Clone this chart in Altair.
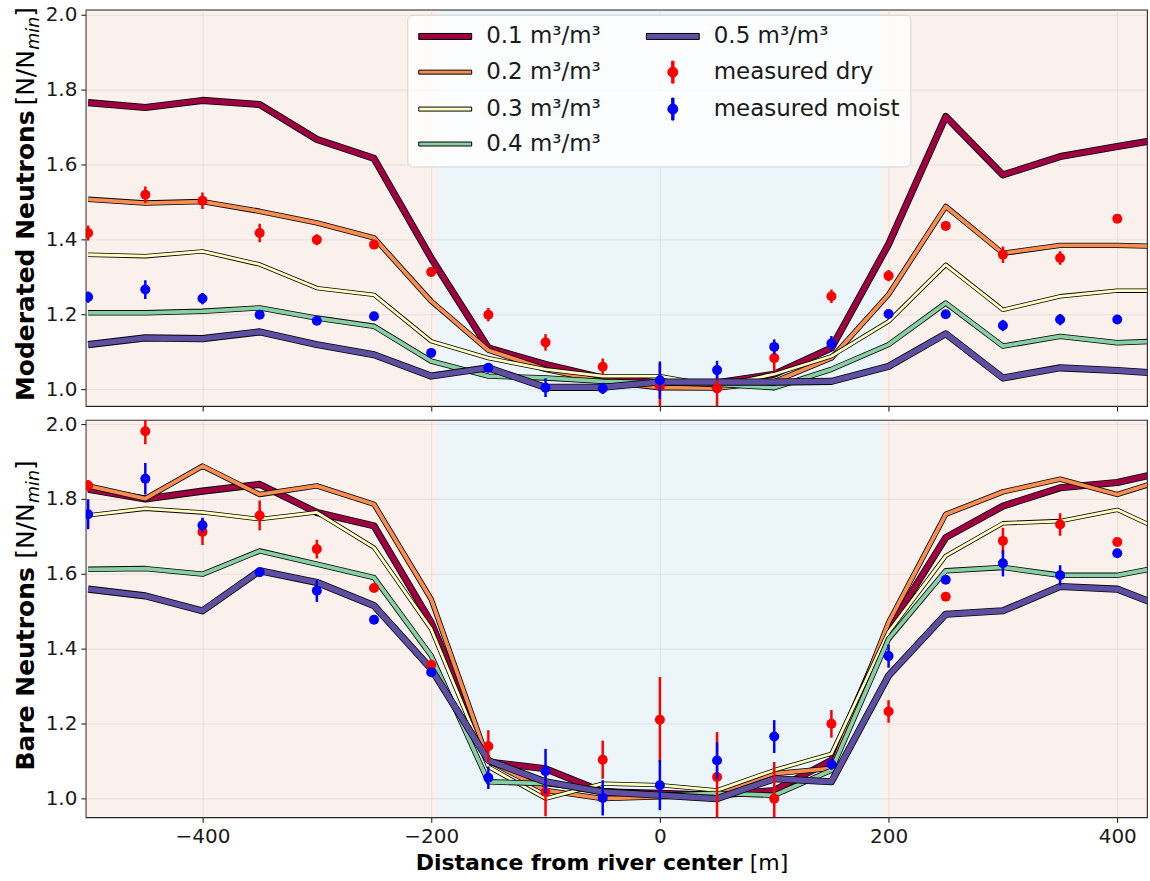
import altair as alt
import pandas as pd

# ---------------------------------------------------------------- data ----
# model positions across the river transect [m]
distance = [-500, -450, -400, -350, -300, -250, -200, -150, -100, -50,
            0, 50, 100, 150, 200, 250, 300, 350, 400, 450]
# measurement stations [m]
station = [-500, -450, -400, -350, -300, -250, -200, -150, -100, -50,
           0, 50, 100, 150, 200, 250, 300, 350, 400]

series = ["0.1 m³/m³", "0.2 m³/m³", "0.3 m³/m³", "0.4 m³/m³", "0.5 m³/m³"]
series_color = ["#9e0142", "#f88d52", "#ffffbf", "#88d0a4", "#5e4fa2"]
series_width = [5.5, 3.8, 2.8, 3.8, 5.5]

# moderated neutrons, simulated for each soil moisture
mod_01 = [1.765, 1.752, 1.771, 1.760, 1.667, 1.616, 1.350, 1.110, 1.066, 1.030,
          1.017, 1.017, 1.040, 1.110, 1.387, 1.728, 1.572, 1.621, 1.648, 1.673]
mod_02 = [1.507, 1.497, 1.501, 1.475, 1.444, 1.404, 1.235, 1.104, 1.053, 1.021,
          1.004, 1.003, 1.020, 1.083, 1.253, 1.488, 1.363, 1.384, 1.384, 1.380]
mod_03 = [1.359, 1.355, 1.368, 1.333, 1.270, 1.252, 1.128, 1.083, 1.053, 1.035,
          1.035, 1.008, 1.040, 1.088, 1.181, 1.332, 1.212, 1.248, 1.263, 1.263]
mod_04 = [1.204, 1.204, 1.208, 1.217, 1.190, 1.168, 1.075, 1.035, 1.030, 1.021,
          1.017, 1.013, 1.004, 1.053, 1.119, 1.230, 1.115, 1.141, 1.124, 1.130]
mod_05 = [1.119, 1.137, 1.135, 1.153, 1.119, 1.092, 1.035, 1.057, 1.005, 1.005,
          1.019, 1.019, 1.019, 1.021, 1.061, 1.148, 1.030, 1.057, 1.050, 1.040]

# moderated neutrons, measured
mod_dry = [1.417, 1.519, 1.503, 1.417, 1.399, 1.386, 1.313, 1.199, 1.125, 1.060,
           1.008, 1.002, 1.083, 1.248, 1.303, 1.436, 1.359, 1.350, 1.455]
mod_dry_err = [0.020, 0.022, 0.022, 0.025, 0.015, 0.012, 0.012, 0.018, 0.022, 0.022,
               0.060, 0.050, 0.035, 0.018, 0.015, 0.010, 0.022, 0.018, 0.010]
mod_moist = [1.246, 1.266, 1.242, 1.199, 1.183, 1.195, 1.097, 1.057, 1.004, 1.002,
             1.024, 1.051, 1.113, 1.122, 1.201, 1.200, 1.170, 1.186, 1.186]
mod_moist_err = [0.015, 0.025, 0.015, 0.010, 0.012, 0.010, 0.010, 0.010, 0.025, 0.015,
                 0.050, 0.025, 0.020, 0.020, 0.010, 0.010, 0.015, 0.015, 0.010]

# bare neutrons, simulated for each soil moisture
bare_01 = [1.826, 1.800, 1.821, 1.839, 1.764, 1.728, 1.470, 1.097, 1.079, 1.017,
           1.013, 1.008, 1.021, 1.101, 1.452, 1.697, 1.781, 1.830, 1.844, 1.878]
bare_02 = [1.835, 1.801, 1.888, 1.812, 1.835, 1.786, 1.532, 1.100, 1.021, 0.999,
           1.004, 1.010, 1.066, 1.080, 1.470, 1.759, 1.819, 1.853, 1.812, 1.860]
bare_03 = [1.756, 1.774, 1.764, 1.746, 1.764, 1.670, 1.452, 1.084, 0.999, 1.039,
           1.035, 1.021, 1.075, 1.119, 1.444, 1.648, 1.735, 1.741, 1.771, 1.700]
bare_04 = [1.612, 1.614, 1.599, 1.661, 1.626, 1.590, 1.381, 1.044, 1.039, 1.021,
           1.008, 1.013, 1.008, 1.075, 1.426, 1.608, 1.617, 1.596, 1.596, 1.625]
bare_05 = [1.559, 1.541, 1.501, 1.608, 1.577, 1.515, 1.346, 1.101, 1.044, 1.017,
           1.008, 0.999, 1.052, 1.044, 1.328, 1.492, 1.501, 1.566, 1.559, 1.500]

# bare neutrons, measured
bare_dry = [1.836, 1.981, 1.712, 1.756, 1.666, 1.562, 1.356, 1.139, 1.017, 1.103,
            1.210, 1.057, 0.999, 1.199, 1.232, 1.539, 1.688, 1.732, 1.685]
bare_dry_err = [0.015, 0.035, 0.035, 0.040, 0.025, 0.010, 0.015, 0.043, 0.065, 0.051,
                0.114, 0.120, 0.098, 0.037, 0.030, 0.012, 0.035, 0.030, 0.010]
bare_moist = [1.759, 1.854, 1.730, 1.604, 1.555, 1.477, 1.337, 1.055, 1.072, 1.001,
              1.035, 1.101, 1.165, 1.091, 1.380, 1.584, 1.628, 1.596, 1.655]
bare_moist_err = [0.040, 0.042, 0.020, 0.010, 0.030, 0.010, 0.010, 0.030, 0.060, 0.047,
                  0.067, 0.049, 0.044, 0.015, 0.031, 0.010, 0.035, 0.027, 0.010]

# river (blue) and bank (pink) zones
zone_start = [-600, -194, 194]
zone_end = [-194, 194, 600]
zone_name = ["bank", "river", "bank"]
zone_colors = ["#f1d7c9", "#c9e5f1"]

# legend entries (filled column by column, two columns)
legend_order = ["0.1 m³/m³", "0.2 m³/m³", "0.3 m³/m³", "0.4 m³/m³",
                "0.5 m³/m³", "measured dry", "measured moist"]
legend_fill = ["#9e0142", "#f88d52", "#ffffbf", "#88d0a4",
               "#5e4fa2", "#ff0000", "#0000ff"]
legend_stroke = ["#000000", "#000000", "#000000", "#000000",
                 "#000000", "#ff0000", "#0000ff"]

FONT = "DejaVu Sans"
X_DOMAIN = [-502, 426]
PANEL_W = 1063
X_TITLE_SIZE = 22
Y_TITLE_SIZE = 25

# ------------------------------------------------------------ helpers ----
line_thick = "M-1,-0.3L4.3,-0.3L4.3,0.3L-1,0.3Z"
line_thin = "M-1,-0.2L4.3,-0.2L4.3,0.2L-1,0.2Z"
errbar = ("M1.53,-1.1L1.77,-1.1L1.77,1.1L1.53,1.1Z "
          "M2.15,0A0.5,0.5 0 1,1 1.15,0A0.5,0.5 0 1,1 2.15,0Z")
legend_shapes = [line_thick, line_thin, line_thin, line_thin, line_thick, errbar, errbar]

x_scale = alt.Scale(domain=X_DOMAIN, nice=False, zero=False)
corner = pd.DataFrame({"k": [0]})


def x_axis(show_labels):
    return alt.Axis(values=[-400, -200, 0, 200, 400], labels=show_labels,
                    title=None, grid=True, format="d")


def extent_marker(px, py):
    # invisible hairline that pins the outer extent of the figure
    return alt.Chart(corner).mark_rule(opacity=0, strokeWidth=1).encode(
        x=alt.value(px), x2=alt.value(px + 0.01), y=alt.value(py), y2=alt.value(py + 0.01))


def label(text, x, y, size, angle=0, align="left", weight="normal", style="normal"):
    kw = dict(align=align, baseline="alphabetic", font=FONT, fontSize=size,
              fontWeight=weight, fontStyle=style, color="#000000")
    if angle:
        kw["angle"] = angle
    return alt.Chart(pd.DataFrame({"t": [text]})).mark_text(**kw).encode(
        x=alt.value(x), y=alt.value(y), text="t:N")


def y_title(name, starts):
    # bold quantity name, then "[N/N_min]" with an italic subscript; reads bottom to top
    bx = -52
    s = Y_TITLE_SIZE
    return [
        label(name, bx, starts[0], s, angle=270, weight="bold"),
        label("[N/N", bx, starts[1], s, angle=270),
        label("min", bx + 5, starts[2], s * 0.7, angle=270, style="italic"),
        label("]", bx, starts[3], s, angle=270),
    ]


def panel(models, dry, dry_err, moist, moist_err, y_domain, show_x,
          title_name, title_starts, with_legend, height):
    y_scale = alt.Scale(domain=y_domain, nice=False, zero=False)
    y_axis = alt.Axis(values=[1.0, 1.2, 1.4, 1.6, 1.8, 2.0], format=".1f",
                      title=None, grid=True)
    xa = x_axis(show_x)

    zones = pd.DataFrame({"start": zone_start, "end": zone_end, "zone": zone_name})
    layers = [
        alt.Chart(zones).mark_rect(clip=True, opacity=0.35).encode(
            x=alt.X("start:Q", scale=x_scale, axis=xa),
            x2="end:Q",
            color=alt.Color("zone:N", legend=None,
                            scale=alt.Scale(domain=["bank", "river"], range=zone_colors)),
        )
    ]

    rows = []
    for name, values in zip(series, models):
        for d, v in zip(distance, values):
            rows.append({"distance": d, "value": v, "series": name})
    model_df = pd.DataFrame(rows)

    for name, color, width in zip(series, series_color, series_width):
        base = alt.Chart(model_df).transform_filter(alt.datum.series == name)
        enc = dict(x=alt.X("distance:Q", scale=x_scale, axis=xa),
                   y=alt.Y("value:Q", scale=y_scale, axis=y_axis))
        layers.append(base.mark_line(clip=True, color="#000000", strokeWidth=width + 1.6,
                                     strokeJoin="round").encode(**enc))
        layers.append(base.mark_line(clip=True, color=color, strokeWidth=width,
                                     strokeJoin="round").encode(**enc))

    for vals, errs, color in ((dry, dry_err, "#ff0000"), (moist, moist_err, "#0000ff")):
        m = pd.DataFrame({"distance": station, "value": vals, "err": errs})
        m["lo"] = m["value"] - m["err"]
        m["hi"] = m["value"] + m["err"]
        layers.append(alt.Chart(m).mark_rule(clip=True, color=color, strokeWidth=2.5).encode(
            x=alt.X("distance:Q", scale=x_scale, axis=xa),
            y=alt.Y("lo:Q", scale=y_scale, axis=y_axis), y2="hi:Q"))
        layers.append(alt.Chart(m).mark_circle(clip=True, color=color, size=100, opacity=1).encode(
            x=alt.X("distance:Q", scale=x_scale, axis=xa),
            y=alt.Y("value:Q", scale=y_scale, axis=y_axis)))

    if with_legend:
        leg = pd.DataFrame({"entry": legend_order})
        legend = alt.Legend(title=None, orient="none", legendX=322, legendY=5,
                            columns=2, columnPadding=43, rowPadding=10,
                            labelOffset=46, labelFont=FONT, labelFontSize=23,
                            labelLimit=400, labelColor="#1a1a1a", symbolSize=400,
                            symbolStrokeWidth=1, padding=10,
                            fillColor="rgba(255,255,255,0.8)",
                            strokeColor="#d4d4d4", cornerRadius=5)
        layers.append(alt.Chart(leg).mark_point(clip=True, filled=True, opacity=1,
                                                strokeWidth=1).encode(
            x=alt.value(-300), y=alt.value(-300),
            fill=alt.Fill("entry:N", scale=alt.Scale(domain=legend_order, range=legend_fill),
                          legend=legend),
            stroke=alt.Stroke("entry:N", scale=alt.Scale(domain=legend_order, range=legend_stroke),
                              legend=legend),
            shape=alt.Shape("entry:N", scale=alt.Scale(domain=legend_order, range=legend_shapes),
                            legend=legend),
        ))
        layers.append(extent_marker(-85, -8))

    layers += y_title(title_name, title_starts)

    if show_x:
        layers.append(label("Distance from river center", 658, 451, X_TITLE_SIZE,
                            align="right", weight="bold"))
        layers.append(label("[m]", 665, 451, X_TITLE_SIZE))
        layers.append(extent_marker(PANEL_W + 2, 462))

    return alt.layer(*layers).properties(width=PANEL_W, height=height)


top = panel([mod_01, mod_02, mod_03, mod_04, mod_05],
            mod_dry, mod_dry_err, mod_moist, mod_moist_err,
            [0.955, 2.013], False, "Moderated Neutrons", (392, 96, 40, 7), True, 397)
bottom = panel([bare_01, bare_02, bare_03, bare_04, bare_05],
               bare_dry, bare_dry_err, bare_moist, bare_moist_err,
               [0.949, 2.011], True, "Bare Neutrons", (351, 139, 83, 50), False, 398)

chart = alt.vconcat(top, bottom, spacing=0).resolve_scale(
    color="independent", y="independent"
).properties(
    padding=0,
    background="white",
).configure_view(
    stroke="#222222", strokeWidth=1.2
).configure_axis(
    labelFont=FONT, labelFontSize=20, labelColor="#1a1a1a",
    tickColor="#222222", tickSize=5, tickWidth=1.1, labelPadding=4,
    domain=False, gridColor="#b0b0b0", gridOpacity=0.35, gridWidth=1,
)

chart.save("out.html", embed_options={"renderer": "svg", "actions": False})
